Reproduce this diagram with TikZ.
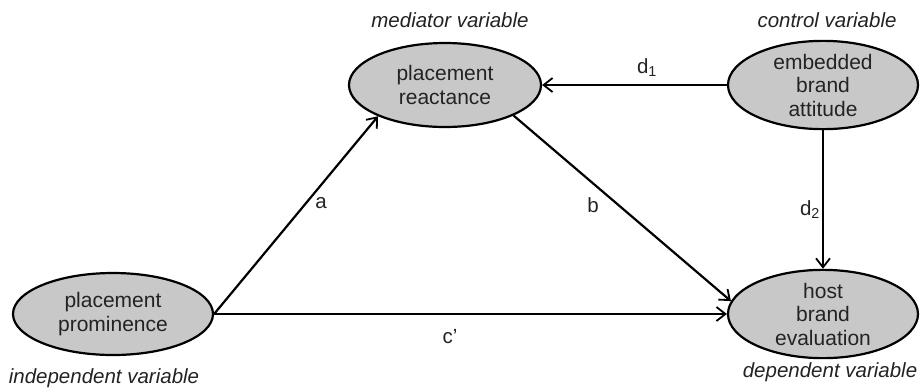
\documentclass[tikz,border=0pt]{standalone}
\usepackage{fontspec}
\setmainfont{Liberation Sans}
\usepackage{tikz}
\usetikzlibrary{arrows.meta,shapes.geometric}
\definecolor{VarGray}{RGB}{200,200,200}
\definecolor{InkGray}{RGB}{35,35,35}

\tikzset{
  var/.style={ellipse,draw=black,fill=VarGray,line width=2.2pt,inner sep=0pt,
    align=center,text=InkGray,font=\fontsize{21}{23.5}\selectfont},
  role/.style={text=InkGray,font=\fontsize{20.5}{24}\selectfont\itshape},
  path/.style={line width=2.2pt,-{Straight Barb[length=9pt,width=14pt,line width=1.8pt]}},
  coef/.style={text=InkGray,font=\fontsize{20.5}{24}\selectfont}
}

\begin{document}
\begin{tikzpicture}[x=1pt,y=-1pt]
      \useasboundingbox (0,0) rectangle (920,389);
      % variables
      \node[var,minimum width=200pt,minimum height=82pt] (prom) at (113,314) {placement\\prominence};
      \node[var,minimum width=192pt,minimum height=84pt] (react) at (445,85) {placement\\reactance};
      \node[var,minimum width=190pt,minimum height=84pt] (emb) at (823,85) {embedded\\brand\\attitude};
      \node[var,minimum width=190pt,minimum height=85pt] (host) at (823,314) {host\\brand\\evaluation};
      % roles
      \node[role] (medlab) at (450,20) {mediator variable};
      \node[role] (ctrllab) at (827,20) {control variable};
      \node[role] (indlab) at (104,378) {independent variable};
      \node[role] (deplab) at (830,372) {dependent variable};
      % paths
      \draw[path] (prom.east) -- (react.205);
      \draw[path] (react.-24) -- (host.172);
      \draw[path] (prom.east) -- (host.west);
      \draw[path] (emb.west) -- (react.east);
      \draw[path] (emb.south) -- (host.north);
      \node[coef] (acoef) at (321,203) {a};
      \node[coef] (bcoef) at (593,205) {b};
      \node[coef] (ccoef) at (450,337) {c'};
      \node[coef] (d1coef) at (647,68) {d\textsubscript{1}};
      \node[coef] (d2coef) at (810,210) {d\textsubscript{2}};
    \end{tikzpicture}
\end{document}
